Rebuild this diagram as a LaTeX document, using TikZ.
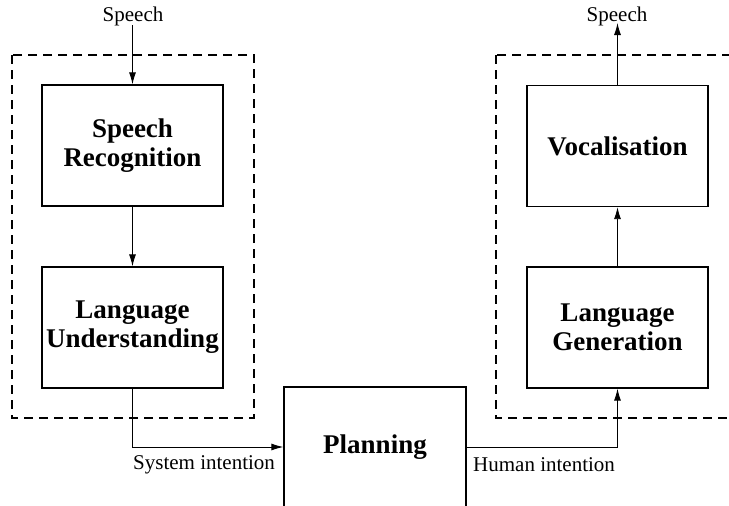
\documentclass[tikz,border=0pt]{standalone}
\usepackage{fontspec}
\setmainfont{Liberation Serif}
\usetikzlibrary{arrows.meta}
\begin{document}
\begin{tikzpicture}[x=1pt,y=-1pt,
  stage/.style={draw,line width=1.3pt,inner sep=0pt,align=center,
    minimum width=181pt,minimum height=121pt,
    font=\fontsize{27}{29}\selectfont\bfseries},
  lbl/.style={inner sep=0pt,font=\fontsize{21}{24}\selectfont},
  group/.style={draw,line width=1.2pt,dash pattern=on 9pt off 6pt},
  flow/.style={line width=0.9pt,-{Latex[length=12pt,width=7pt]}}]
\useasboundingbox (0,0) rectangle (729,506);

% dashed groups
\draw[group] (12,55) rectangle (254,418);
\draw[group] (496,55) rectangle (738,418);

% stages
\node[stage] (sr) at (132.5,145.5) {Speech\\Recognition};
\node[stage] (lu) at (132.5,327.5) {Language\\Understanding};
\node[stage,minimum width=182pt,minimum height=120pt] (pl) at (375,447) {Planning};
\node[stage] (vo) at (617.5,146) {Vocalisation};
\node[stage] (lg) at (617.5,327.5) {Language\\Generation};

% labels
\node[lbl] (spin) at (133,16) {Speech};
\node[lbl] (spout) at (617,16) {Speech};
\node[lbl,anchor=west] (sys) at (133,465) {System intention};
\node[lbl,anchor=west] (hum) at (473,465) {Human intention};
\coordinate (intop) at (132.5,25);
\coordinate (outtip) at (617.5,23);

% connectors
\draw[flow] (intop) -- (sr.north);
\draw[flow] (sr.south) -- (lu.north);
\draw[flow] (lu.south) |- (pl.west);
\draw[flow] (pl.east) -| (lg.south);
\draw[flow] (lg.north) -- (vo.south);
\draw[flow] (vo.north) -- (outtip);
\end{tikzpicture}
\end{document}
